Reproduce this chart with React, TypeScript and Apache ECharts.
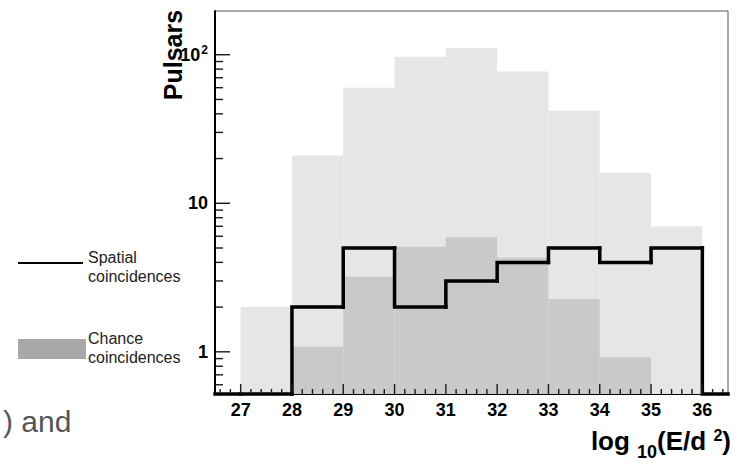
import React, { useEffect, useRef } from "react";
import * as echarts from "echarts";

// Histogram bins: each bin spans [start, start + 1)
const binStarts = [26, 27, 28, 29, 30, 31, 32, 33, 34, 35, 36];
const totalPulsars = [0, 2, 21, 60, 97, 111, 77, 42, 16, 7, 0];
const chanceCoincidences = [0, 0, 1.08, 3.2, 5.1, 5.9, 4.3, 2.27, 0.92, 0, 0];
const spatialCoincidences = [0, 0, 2, 5, 2, 3, 4, 5, 4, 5, 0];

const xTickLabels = [27, 28, 29, 30, 31, 32, 33, 34, 35, 36];
const yTickLabels = [1, 10, 100];
const yMinorTicks = [0.6, 0.7, 0.8, 0.9, 2, 3, 4, 5, 6, 7, 8, 9, 20, 30, 40, 50, 60, 70, 80, 90];

const X_MIN = 26.5;
const X_MAX = 36.5;
const Y_MIN = 0.52;
const Y_MAX = 197;

const xMinorTicks: number[] = [];
for (let k = 0; k < 50; k++) {
  const t = Math.round((X_MIN + 0.1 + k * 0.2) * 10) / 10;
  if (t >= X_MAX) break;
  if (Math.abs(t - Math.round(t)) > 1e-6) xMinorTicks.push(t);
}

const FONT = "Liberation Sans, Arial, Helvetica, sans-serif";
const clampX = (x: number) => Math.max(X_MIN, Math.min(X_MAX, x));

function fillSeries(values: number[], color: string) {
  return {
    type: "custom",
    xAxisIndex: 0,
    yAxisIndex: 0,
    clip: false,
    z: 2,
    data: binStarts.map((s, i) => [s, values[i]]),
    renderItem: (params: any, api: any) => {
      const x0 = api.value(0);
      const v = api.value(1);
      if (!v || v <= 0) return null;
      const p0 = api.coord([clampX(x0), v]);
      const p1 = api.coord([clampX(x0 + 1), Y_MIN]);
      return {
        type: "rect",
        shape: { x: p0[0], y: p0[1], width: p1[0] - p0[0], height: p1[1] - p0[1] },
        style: { fill: color, stroke: null },
      };
    },
  };
}

// ticks drawn as thin filled rects: data [x, y, length, isYTick]
function tickSeries(data: number[][]) {
  return {
    type: "custom",
    xAxisIndex: 0,
    yAxisIndex: 0,
    clip: false,
    z: 12,
    data,
    renderItem: (params: any, api: any) => {
      const p = api.coord([api.value(0), api.value(1)]);
      const o = api.coord([X_MIN, Y_MIN]);
      const len = api.value(2);
      if (api.value(3) > 0.5) {
        return { type: "rect", shape: { x: o[0], y: p[1] - 0.7, width: len, height: 1.4 }, style: { fill: "#1a1a1a" } };
      }
      return { type: "rect", shape: { x: p[0] - 0.7, y: o[1] - len, width: 1.4, height: len }, style: { fill: "#1a1a1a" } };
    },
  };
}

export default function App() {
  const ref = useRef<HTMLDivElement>(null);
  useEffect(() => {
    document.body.style.margin = "0";
    const chart = echarts.init(ref.current!, null, { renderer: "svg" });
    const outlineData = binStarts.map((s, i) => [
      s,
      spatialCoincidences[i],
      i === 0 ? spatialCoincidences[i] : spatialCoincidences[i - 1],
    ]);
    const tickData = [
      ...xTickLabels.map((v) => [v, 1, 10, 0]),
      ...xMinorTicks.map((v) => [v, 1, 5, 0]),
      ...yTickLabels.map((v) => [30, v, 15, 1]),
      ...yMinorTicks.map((v) => [30, v, 8, 1]),
    ];
    chart.setOption({
      animation: false,
      backgroundColor: "#ffffff",
      grid: {
        left: 215,
        top: 11,
        right: 15,
        bottom: 68,
        show: true,
        borderColor: "#555",
        borderWidth: 1,
        outerBoundsMode: "none",
      },
      xAxis: {
        type: "value",
        min: X_MIN,
        max: X_MAX,
        axisLine: { show: true, onZero: false, lineStyle: { color: "#000", width: 2 } },
        axisTick: { show: false },
        axisLabel: {
          customValues: xTickLabels,
          fontFamily: FONT,
          fontWeight: "bold",
          fontSize: 18,
          color: "#000",
          margin: 7,
        },
        splitLine: { show: false },
      },
      yAxis: {
        type: "log",
        logBase: 10,
        min: Y_MIN,
        max: Y_MAX,
        axisLine: { show: true, onZero: false, lineStyle: { color: "#000", width: 2 } },
        axisTick: { show: false },
        axisLabel: {
          customValues: yTickLabels,
          fontFamily: FONT,
          fontWeight: "bold",
          fontSize: 18,
          color: "#000",
          margin: 7,
          formatter: (v: number) => (Math.abs(v - 100) < 1e-6 ? "{b|10}{sup|2}" : String(Math.round(v))),
          rich: {
            b: { fontFamily: FONT, fontWeight: "bold", fontSize: 18, color: "#000" },
            sup: { fontFamily: FONT, fontWeight: "bold", fontSize: 12, color: "#000", padding: [0, 0, 10, 1] },
          },
        },
        splitLine: { show: false },
      },
      series: [
        fillSeries(totalPulsars, "#e6e6e6"),
        fillSeries(chanceCoincidences, "#c9c9c9"),
        {
          type: "custom",
          xAxisIndex: 0,
          yAxisIndex: 0,
          clip: false,
          z: 9,
          data: outlineData,
          renderItem: (params: any, api: any) => {
            const x0 = api.value(0);
            const v = api.value(1) > 0 ? api.value(1) : Y_MIN;
            const pv = api.value(2) > 0 ? api.value(2) : Y_MIN;
            const a = api.coord([clampX(x0), pv]);
            const b = api.coord([clampX(x0), v]);
            const c = api.coord([clampX(x0 + 1), v]);
            return {
              type: "polyline",
              shape: { points: [a, b, c] },
              style: { stroke: "#000", lineWidth: 3.5, fill: null, lineJoin: "miter", lineCap: "square" },
            };
          },
        },
        tickSeries(tickData),
      ],
      graphic: [
        {
          type: "text",
          x: 173,
          y: 55,
          rotation: Math.PI / 2,
          style: {
            text: "Pulsars",
            fontFamily: FONT,
            fontWeight: "bold",
            fontSize: 25,
            fill: "#000",
            align: "center",
            verticalAlign: "middle",
          },
        },
        {
          type: "text",
          x: 731,
          y: 441,
          style: {
            text: "{a|log }{sub|10}{a|(E/d }{sup|2}{a|)}",
            align: "right",
            verticalAlign: "middle",
            rich: {
              a: { fontFamily: FONT, fontWeight: "bold", fontSize: 26, lineHeight: 40, fill: "#000" },
              sub: { fontFamily: FONT, fontWeight: "bold", fontSize: 18, lineHeight: 8, verticalAlign: "bottom", fill: "#000" },
              sup: { fontFamily: FONT, fontWeight: "bold", fontSize: 16, lineHeight: 30, verticalAlign: "top", padding: [6, 0, 0, 0], fill: "#000" },
            },
          },
        },
        {
          type: "line",
          shape: { x1: 18, y1: 263, x2: 83, y2: 263 },
          style: { stroke: "#000", lineWidth: 2 },
        },
        {
          type: "text",
          x: 88,
          y: 267,
          style: { text: "Spatial\ncoincidences", fontFamily: FONT, fontSize: 16, lineHeight: 19, fill: "#222", align: "left", verticalAlign: "middle" },
        },
        {
          type: "rect",
          shape: { x: 18, y: 339, width: 68, height: 20 },
          style: { fill: "#a8a8a8" },
        },
        {
          type: "text",
          x: 88,
          y: 348,
          style: { text: "Chance\ncoincidences", fontFamily: FONT, fontSize: 16, lineHeight: 19, fill: "#222", align: "left", verticalAlign: "middle" },
        },
        {
          type: "text",
          x: 3,
          y: 421,
          style: { text: ") and", fontFamily: FONT, fontSize: 30, fill: "#555", align: "left", verticalAlign: "middle" },
        },
      ],
    });
    return () => chart.dispose();
  }, []);
  return <div ref={ref} style={{ width: 743, height: 462 }} />;
}
